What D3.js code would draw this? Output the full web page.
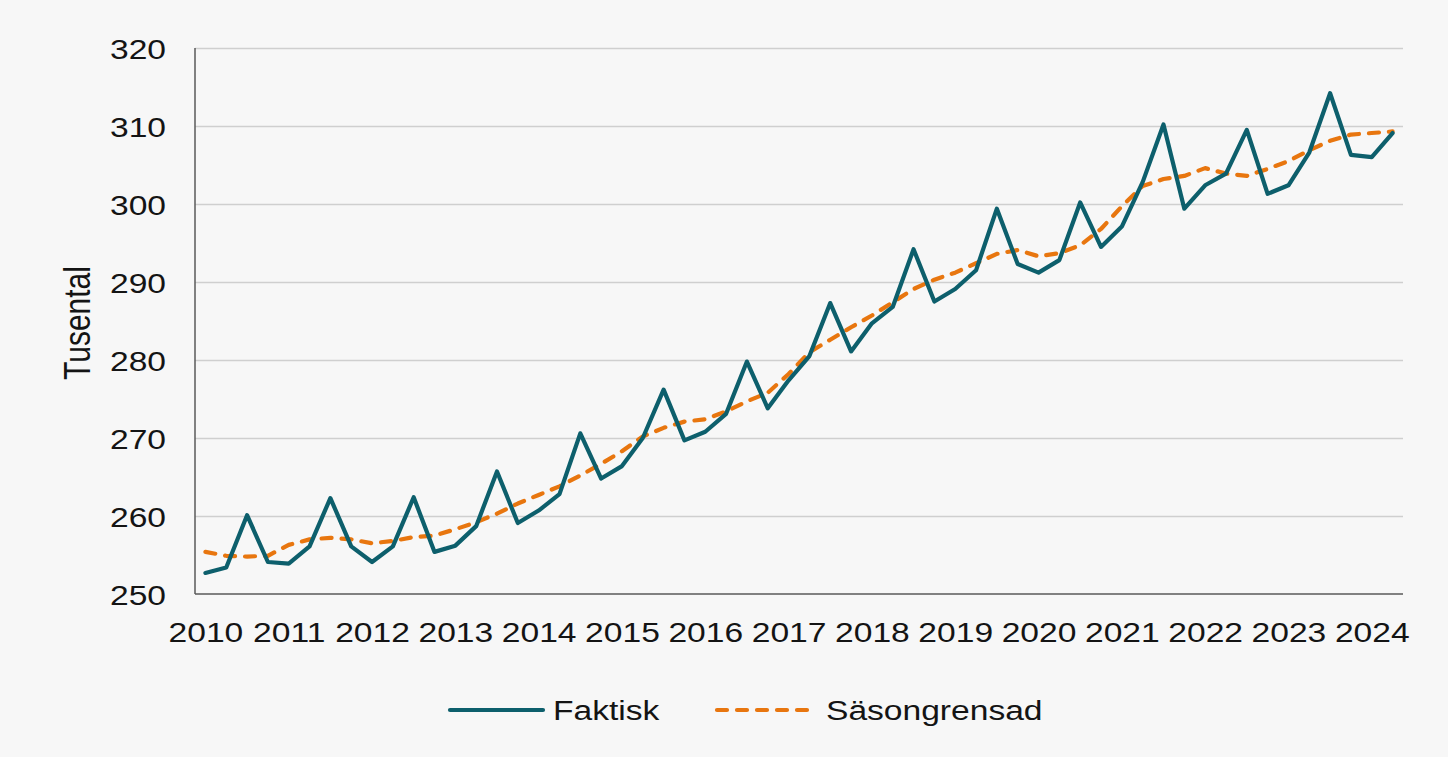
<!DOCTYPE html>
<html>
<head>
<meta charset="utf-8">
<script src="https://cdn.jsdelivr.net/npm/d3@7"></script>
<style>
  html, body { margin: 0; padding: 0; background: #ffffff; }
  svg { display: block; }
  text { font-family: "Liberation Sans", Arial, sans-serif; fill: #141414; }
</style>
</head>
<body>
<svg id="chart" width="1448" height="757"></svg>
<script>
// ---- Data ----
const years = [2010, 2011, 2012, 2013, 2014, 2015, 2016, 2017, 2018, 2019, 2020, 2021, 2022, 2023, 2024];
const quarters = ["K1", "K2", "K3", "K4"];
// 2010K1 .. 2024K2
const categories = years.flatMap(y => quarters.map(q => y + q)).slice(0, 58);

const faktisk = [
  252.7, 253.4, 260.1, 254.1,
  253.9, 256.1, 262.3, 256.1,
  254.1, 256.1, 262.4, 255.4,
  256.2, 258.7, 265.7, 259.1,
  260.7, 262.8, 270.6, 264.8,
  266.4, 270.0, 276.2, 269.7,
  270.8, 273.1, 279.8, 273.8,
  277.4, 280.5, 287.3, 281.1,
  284.7, 286.8, 294.2, 287.5,
  289.1, 291.5, 299.4, 292.3,
  291.2, 292.8, 300.2, 294.5,
  297.1, 302.8, 310.2, 299.4,
  302.4, 303.9, 309.5, 301.3,
  302.4, 306.6, 314.2, 306.3,
  306.0, 309.1
];

const sasongrensad = [
  255.4, 254.9, 254.8, 254.9,
  256.3, 257.0, 257.2, 257.0,
  256.5, 256.8, 257.3, 257.5,
  258.3, 259.2, 260.3, 261.6,
  262.7, 263.8, 265.2, 266.7,
  268.3, 270.2, 271.3, 272.1,
  272.4, 273.4, 274.7, 275.8,
  278.2, 281.0, 282.6, 284.2,
  285.7, 287.4, 289.1, 290.3,
  291.2, 292.4, 293.6, 294.1,
  293.3, 293.7, 294.7, 296.8,
  299.7, 302.3, 303.2, 303.6,
  304.6, 303.9, 303.6, 304.5,
  305.5, 306.9, 308.1, 308.9,
  309.1, 309.3
];

const yTicks = [250, 260, 270, 280, 290, 300, 310, 320];
const xTickCategories = categories.filter(c => c.endsWith("K1"));
const seriesNames = ["Faktisk", "Säsongrensad"];
const yTitle = "Tusental";

// ---- Layout ----
const W = 1448, H = 757;
const L = 195, R = 1403, T = 48, B = 594;
const FS = 28, SX = 1.2;
const teal = "#0d5f6c", orange = "#e8760f";

const svg = d3.select("#chart");
svg.append("rect").attr("x", 0).attr("y", 0).attr("width", W).attr("height", H).attr("fill", "#f7f7f7");

const x = d3.scalePoint().domain(categories).range([L, R]).padding(0.5);
const y = d3.scaleLinear().domain([250, 320]).range([B, T]);

function stretch(sel) {
  sel.each(function () {
    const t = d3.select(this);
    const x0 = +t.attr("x") || 0;
    t.attr("x", x0 / SX).attr("transform", `scale(${SX},1)`);
  });
}

// gridlines
const grid = svg.append("g").attr("transform", `translate(${L},0)`)
  .call(d3.axisLeft(y).tickValues(yTicks.filter(v => v > 250)).tickSize(-(R - L)).tickFormat(""));
grid.select(".domain").remove();
grid.selectAll("line").attr("stroke", "#cfcfcf").attr("stroke-width", 1.5);

// y axis labels
const yAx = svg.append("g").attr("transform", `translate(${L},0)`)
  .call(d3.axisLeft(y).tickValues(yTicks).tickSize(0).tickPadding(29).tickFormat(d3.format("d")));
yAx.select(".domain").remove();
yAx.selectAll("text").attr("font-size", FS).attr("fill", "#141414").attr("dy", "0.36em")
  .style("font-family", '"Liberation Sans", Arial, sans-serif');
stretch(yAx.selectAll("text"));

// x axis labels
const xAx = svg.append("g").attr("transform", `translate(0,${B})`)
  .call(d3.axisBottom(x).tickValues(xTickCategories).tickSize(0).tickPadding(28).tickFormat(c => c.slice(0, 4)));
xAx.select(".domain").remove();
xAx.selectAll("text").attr("font-size", FS).attr("fill", "#141414").attr("dy", "0.71em")
  .attr("y", 28).attr("x", 0).attr("transform", `scale(${SX},1)`)
  .style("font-family", '"Liberation Sans", Arial, sans-serif');

// axis lines
svg.append("line").attr("x1", L).attr("x2", L).attr("y1", T).attr("y2", B)
  .attr("stroke", "#5a5a5a").attr("stroke-width", 1.5);
svg.append("line").attr("x1", L).attr("x2", R).attr("y1", B).attr("y2", B)
  .attr("stroke", "#5a5a5a").attr("stroke-width", 1.5);

// y title
svg.append("text").attr("transform", `translate(90,323) rotate(-90) scale(1,${SX})`)
  .attr("text-anchor", "middle").attr("font-size", 30).text(yTitle);

// lines
const line = d3.line().x((d, i) => x(categories[i])).y(d => y(d));
svg.append("path").datum(sasongrensad).attr("d", line)
  .attr("fill", "none").attr("stroke", orange).attr("stroke-width", 4.2)
  .attr("stroke-dasharray", "10,10").attr("stroke-linecap", "round").attr("stroke-linejoin", "round");
svg.append("path").datum(faktisk).attr("d", line)
  .attr("fill", "none").attr("stroke", teal).attr("stroke-width", 4.2)
  .attr("stroke-linejoin", "round").attr("stroke-linecap", "round");

// legend
const lg = svg.append("g");
lg.append("line").attr("x1", 450).attr("x2", 543).attr("y1", 710).attr("y2", 710)
  .attr("stroke", teal).attr("stroke-width", 4.2).attr("stroke-linecap", "round");
lg.append("text").attr("x", 553 / SX).attr("y", 720).attr("transform", `scale(${SX},1)`)
  .attr("font-size", FS).text(seriesNames[0]);
lg.append("line").attr("x1", 717).attr("x2", 816).attr("y1", 710).attr("y2", 710)
  .attr("stroke", orange).attr("stroke-width", 4.2).attr("stroke-linecap", "round")
  .attr("stroke-dasharray", "10,10");
lg.append("text").attr("x", 826 / SX).attr("y", 720).attr("transform", `scale(${SX},1)`)
  .attr("font-size", FS).text(seriesNames[1]);
</script>
</body>
</html>
